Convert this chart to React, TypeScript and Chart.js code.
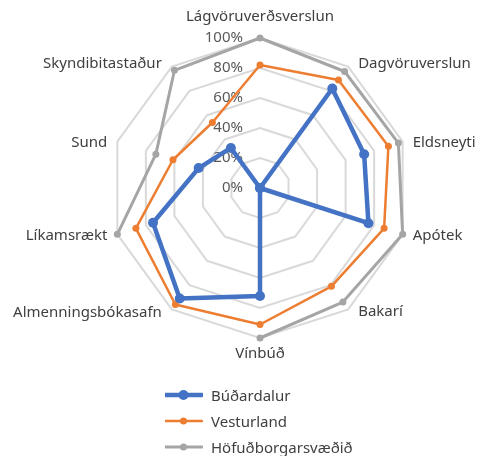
import React, { useEffect, useRef } from 'react';
import { Chart, registerables } from 'chart.js';

Chart.register(...registerables);

const categories = [
  'Lágvöruverðsverslun',
  'Dagvöruverslun',
  'Eldsneyti',
  'Apótek',
  'Bakarí',
  'Vínbúð',
  'Almenningsbókasafn',
  'Líkamsrækt',
  'Sund',
  'Skyndibitastaður',
];

const budardalur = [0, 82, 73, 76, 0, 72, 91, 75, 43, 33];
const vesturland = [82, 89, 90, 87, 81, 91, 96, 87, 61, 54];
const hofudborg = [100, 96, 97, 100, 94, 100, null, 100, 73, 97];

const seriesNames = ['Búðardalur', 'Vesturland', 'Höfuðborgarsvæðið'];
const seriesColors = ['#4472C4', '#ED7D31', '#A5A5A5'];
const tickValues = [0, 20, 40, 60, 80, 100];

const FONT = '"Noto Sans", sans-serif';
const TEXT = '#404040';

const labelPlugin = {
  id: 'customLabels',
  beforeDatasetsDraw(chart: any) {
    const s = chart.scales.r;
    const ctx = chart.ctx;
    ctx.save();
    ctx.font = `15px ${FONT}`;
    ctx.fillStyle = '#595959';
    ctx.textAlign = 'right';
    ctx.textBaseline = 'middle';
    tickValues.forEach((v) => {
      const d = s.getDistanceFromCenterForValue(v);
      ctx.fillText(`${v}%`, s.xCenter - 17, s.yCenter - d);
    });
    ctx.restore();
  },
  afterDatasetsDraw(chart: any) {
    const s = chart.scales.r;
    const ctx = chart.ctx;
    ctx.save();
    ctx.font = `15px ${FONT}`;
    ctx.fillStyle = TEXT;
    ctx.textBaseline = 'middle';
    categories.forEach((label, i) => {
      const p = s.getPointPosition(i, s.drawingArea);
      const dx = p.x - s.xCenter;
      const dy = p.y - s.yCenter;
      let x = p.x;
      let y = p.y;
      if (Math.abs(dx) < 1) {
        ctx.textAlign = 'center';
        y += dy < 0 ? -21 : 16;
      } else if (dx > 0) {
        ctx.textAlign = 'left';
        x += 10;
        y += dy < -50 ? -3 : dy > 50 ? 2 : 1;
      } else {
        ctx.textAlign = 'right';
        x -= 10;
        y += dy < -50 ? -3 : dy > 50 ? 3 : 1;
      }
      ctx.fillText(label, x, y);
    });
    ctx.restore();
  },
};

function LegendRow({ name, color, lw, r }: { name: string; color: string; lw: number; r: number }) {
  return (
    <div style={{ display: 'flex', alignItems: 'center', height: 26 }}>
      <svg width={38} height={14} style={{ marginRight: 8 }}>
        <line x1={0} y1={7} x2={37} y2={7} stroke={color} strokeWidth={lw} strokeLinecap="round" />
        <circle cx={18.5} cy={7} r={r} fill={color} />
      </svg>
      <span style={{ font: `15px ${FONT}`, color: TEXT }}>{name}</span>
    </div>
  );
}

export default function App() {
  const ref = useRef<HTMLCanvasElement | null>(null);

  useEffect(() => {
    if (!ref.current) return;
    const widths = [4.5, 2.5, 3];
    const radii = [5, 3.5, 3.5];
    const data = [budardalur, vesturland, hofudborg];
    const chart = new Chart(ref.current, {
      type: 'radar',
      data: {
        labels: categories,
        datasets: seriesNames.map((name, i) => ({
          label: name,
          data: data[i] as any,
          borderColor: seriesColors[i],
          backgroundColor: seriesColors[i],
          pointBackgroundColor: seriesColors[i],
          pointBorderColor: seriesColors[i],
          pointBorderWidth: 0,
          pointRadius: radii[i],
          borderWidth: widths[i],
          borderJoinStyle: 'round',
          fill: false,
          spanGaps: false,
        })),
      },
      options: {
        responsive: false,
        animation: false,
        layout: { padding: { left: 110, right: 68, top: 38, bottom: 118 } },
        plugins: {
          legend: { display: false },
          tooltip: { enabled: false },
        },
        scales: {
          r: {
            min: 0,
            max: 100,
            ticks: { stepSize: 20, display: false },
            pointLabels: { display: false },
            angleLines: { display: false },
            grid: { color: '#D9D9D9', lineWidth: 2, circular: false },
          },
        },
      },
      plugins: [labelPlugin],
    });
    return () => chart.destroy();
  }, []);

  return (
    <div style={{ position: 'fixed', left: 0, top: 0, width: 478, height: 456, background: '#fff' }}>
      <canvas ref={ref} width={478} height={456} style={{ width: 478, height: 456, display: 'block' }} />
      <div style={{ position: 'absolute', left: 165, top: 382 }}>
        <LegendRow name={seriesNames[0]} color={seriesColors[0]} lw={4.5} r={5} />
        <LegendRow name={seriesNames[1]} color={seriesColors[1]} lw={2.5} r={3.5} />
        <LegendRow name={seriesNames[2]} color={seriesColors[2]} lw={3} r={3.5} />
      </div>
    </div>
  );
}
